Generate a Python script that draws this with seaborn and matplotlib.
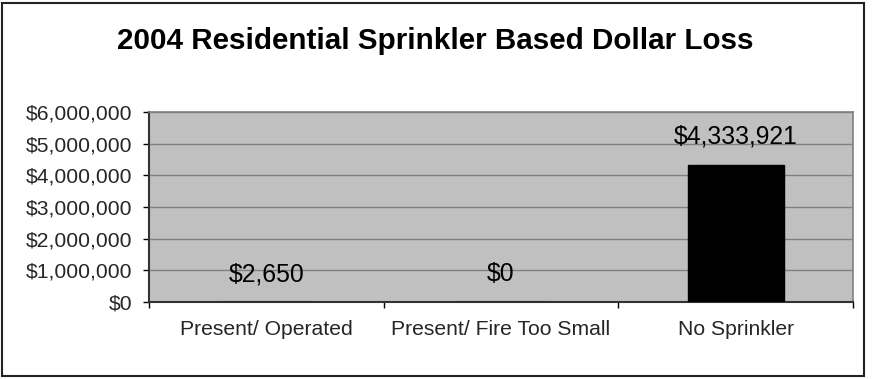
import matplotlib
matplotlib.use("Agg")
import matplotlib.pyplot as plt
from matplotlib.patches import Rectangle
from matplotlib.ticker import FuncFormatter, FixedLocator
import seaborn as sns
import pandas as pd

categories = ["Present/ Operated", "Present/ Fire Too Small", "No Sprinkler"]
dollar_loss = [2650, 0, 4333921]
y_ticks = [0, 1000000, 2000000, 3000000, 4000000, 5000000, 6000000]
title = "2004 Residential Sprinkler Based Dollar Loss"

sns.set_style("white")
plt.rcParams["font.family"] = ["Liberation Sans", "DejaVu Sans"]

df = pd.DataFrame({"category": categories, "loss": dollar_loss})

fig = plt.figure(figsize=(8.72, 3.79), dpi=100)
ax = fig.add_axes([0.1709, 0.2032, 0.8073, 0.5013])
ax.set_facecolor("#C0C0C0")

sns.barplot(data=df, x="category", y="loss", color="black", width=0.41,
            saturation=1, ax=ax, zorder=3)
for p in ax.patches:
    p.set_edgecolor("black")

ax.set_ylim(0, 6000000)
ax.set_xlim(-0.5, 2.5)
ax.set_yticks(y_ticks)
ax.yaxis.set_major_formatter(FuncFormatter(lambda v, _: f"${v:,.0f}"))
ax.grid(axis="y", color="#808080", linewidth=1, zorder=1)
ax.grid(axis="x", visible=False)
ax.set_axisbelow(True)

ax.set_xlabel("")
ax.set_ylabel("")

# category labels centred, tick marks at category boundaries
ax.tick_params(axis="x", which="major", length=0, pad=13, labelsize=15.2)
ax.xaxis.set_minor_locator(FixedLocator([-0.5, 0.5, 1.5, 2.5]))
ax.tick_params(axis="x", which="minor", direction="out", length=4, width=1,
               color="black", bottom=True)
ax.tick_params(axis="y", direction="out", length=4, width=1, color="black",
               pad=8, labelsize=15.2, left=True)

for side in ("left", "bottom"):
    ax.spines[side].set_color("#333333")
    ax.spines[side].set_linewidth(1.5)
for side in ("top", "right"):
    ax.spines[side].set_visible(True)
    ax.spines[side].set_color("#808080")
    ax.spines[side].set_linewidth(1.2)

for i, v in enumerate(dollar_loss):
    ax.annotate(f"${v:,.0f}", xy=(i, v), xytext=(0, 15),
                textcoords="offset points", ha="center", va="baseline",
                fontsize=17.8, color="black")

fig.text(0.4989, 0.893, title, ha="center", va="center",
         fontsize=21.3, fontweight="bold", color="black")

fig.patches.append(Rectangle((2 / 872, 3 / 379), 862 / 872, 373 / 379,
                             transform=fig.transFigure, fill=False,
                             edgecolor="#222222", linewidth=1.5))

fig.savefig("out.png", dpi=100)
